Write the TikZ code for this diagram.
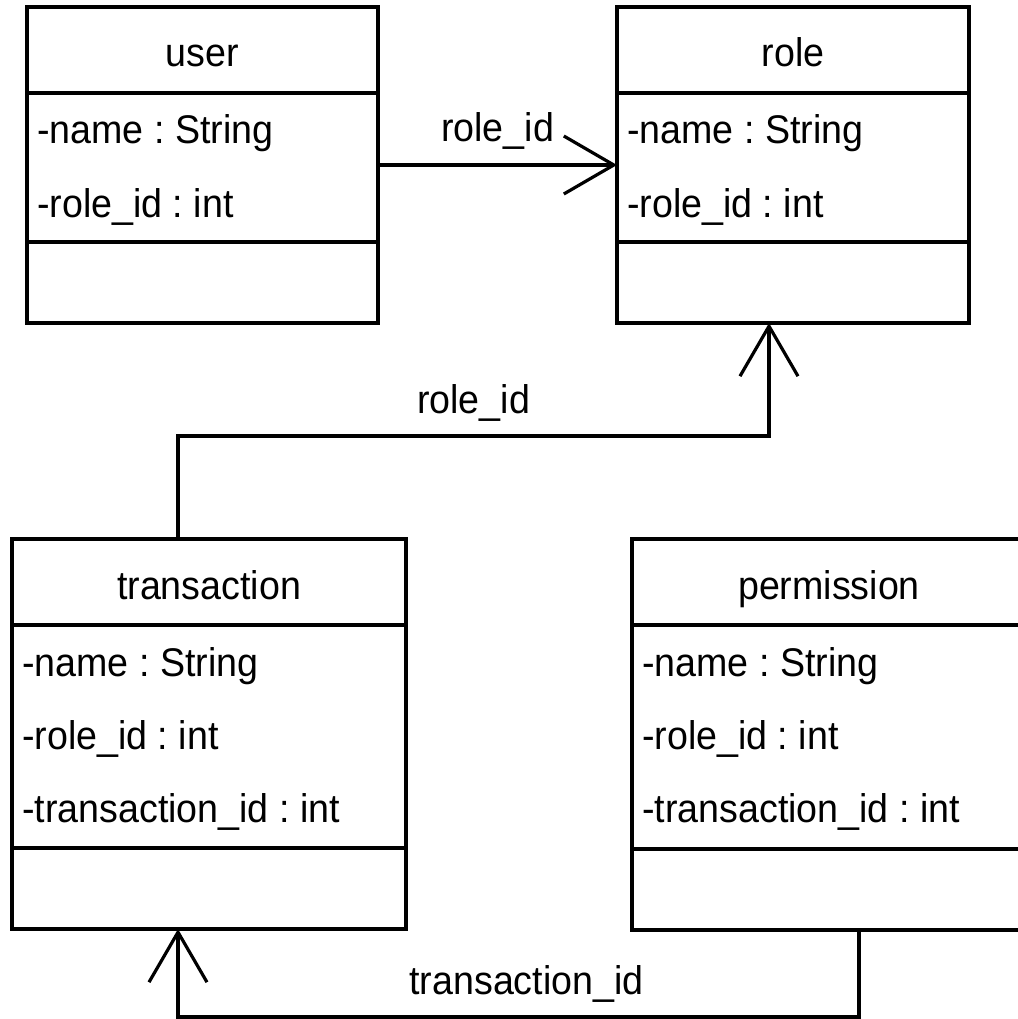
\documentclass[tikz,border=0pt]{standalone}
\usepackage{fontspec}
\setmainfont{Liberation Sans}[FakeStretch=0.94]
\usetikzlibrary{arrows.meta,calc}
\frenchspacing

% A UML class: #1 name, #2 x, #3 y (top left), #4 width, #5 height,
% #6 title, #7 comma separated attributes
\newcommand{\umlclass}[7]{%
  \node[classbox, minimum width=#4pt, minimum height=#5pt] (#1) at (#2,#3) {};
  \node[classtitle] (#1-title) at ($(#1.north)+(0,60)$) {#6};
  \draw[divider] ([yshift=-86pt]#1.north west) -- ([yshift=-86pt]#1.north east);
  \draw[divider] ([yshift=81pt]#1.south west) -- ([yshift=81pt]#1.south east);
  \foreach \a [count=\i] in {#7}
    \node[classattr] (#1-a\i) at ($(#1.north west)+(10,{137+73*(\i-1)})$) {\a};
}

\begin{document}
\begin{tikzpicture}[x=1pt, y=-1pt,
  txt/.style={inner sep=0pt, font=\fontsize{40}{48}\selectfont},
  classbox/.style={draw, line width=4.5pt, anchor=north west, inner sep=0pt, outer sep=0pt},
  divider/.style={line width=3.5pt},
  classtitle/.style={txt, anchor=base},
  classattr/.style={txt, anchor=base west},
  assoc/.style={line width=3.2pt, -{Straight Barb[length=50pt, width=58pt]}},
  assoclabel/.style={txt, anchor=base, yshift=23pt}]

\useasboundingbox (0,0) rectangle (1017,1019);

\umlclass{user}{27}{7}{351}{316}{user}{-name : String, -role\_id : int}
\umlclass{role}{617}{7}{352}{316}{role}{-name : String, -role\_id : int}
\umlclass{trans}{12}{539}{394}{390}{transaction}{-name : String, -role\_id : int, -transaction\_id : int}
\umlclass{perm}{632}{539}{394}{391}{permission}{-name : String, -role\_id : int, -transaction\_id : int}

% user -> role
\draw[assoc] (user.east) -- (role.west) node[assoclabel, midway] {role\_id};

% transaction -> role
\coordinate (transTop) at ([xshift=166pt]trans.north west);
\coordinate (roleBot) at ([xshift=152pt]role.south west);
\draw[assoc] (transTop) -- ++(0,-103) -| (roleBot)
  node[assoclabel, pos=0.25] {role\_id};

% permission -> transaction
\coordinate (permBot) at ([xshift=227pt]perm.south west);
\coordinate (transBot) at (transTop |- trans.south);
\draw[assoc] (permBot) -- ++(0,87) -| (transBot)
  node[assoclabel, pos=0.25, xshift=8pt] {transaction\_id};

\end{tikzpicture}
\end{document}
